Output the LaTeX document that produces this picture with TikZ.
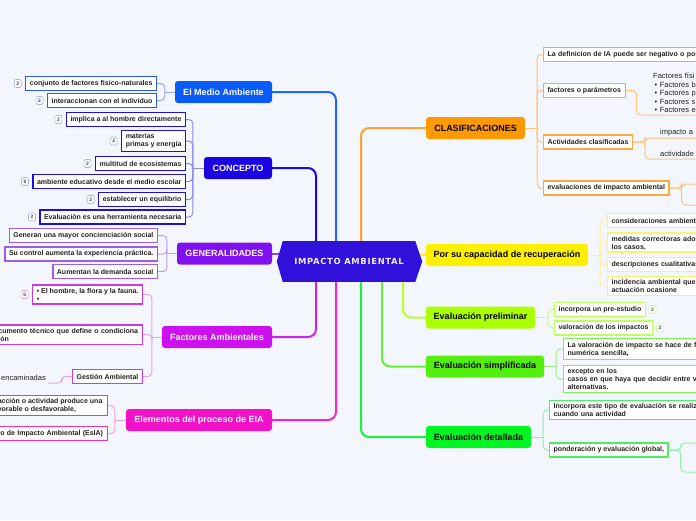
\documentclass[tikz,border=0pt]{standalone}
\usepackage{fontspec}
\setmainfont{Liberation Sans}
\newfontfamily\cfont[LetterSpace=8]{DejaVu Sans}
\usetikzlibrary{calc}
\newcommand\mainf{\fontsize{9}{10}\selectfont\bfseries}
\newcommand\subf{\fontsize{7}{8}\selectfont\bfseries}
\newcommand\plainf{\fontsize{7.5}{8.5}\selectfont}
\newcommand\badgef{\fontsize{5}{5}\selectfont\bfseries}
\definecolor{bg}{HTML}{F3F6FD}
\definecolor{cen}{HTML}{3110DC}
\definecolor{medC}{HTML}{0A5CF8}\definecolor{medL}{HTML}{2266FF}\definecolor{medB}{HTML}{2A5CF5}\definecolor{medBr}{HTML}{8FA8F8}
\definecolor{conC}{HTML}{1A05E2}\definecolor{conL}{HTML}{1A0AE8}\definecolor{conB}{HTML}{1E10D8}\definecolor{conBr}{HTML}{8C86EE}
\definecolor{genC}{HTML}{8010EE}\definecolor{genL}{HTML}{9040F0}\definecolor{genB}{HTML}{9D5CEB}\definecolor{genBr}{HTML}{C09CF0}
\definecolor{facC}{HTML}{CC11EE}\definecolor{facL}{HTML}{CC22EE}\definecolor{facB}{HTML}{C83CE0}\definecolor{facBr}{HTML}{E4A0F0}
\definecolor{eleC}{HTML}{F011C8}\definecolor{eleL}{HTML}{FF22CC}\definecolor{eleB}{HTML}{E832C0}\definecolor{eleBr}{HTML}{F5A0E0}
\definecolor{claC}{HTML}{FF9900}\definecolor{claL}{HTML}{FFA030}\definecolor{claB}{HTML}{FFA740}\definecolor{claBr}{HTML}{FFC27A}
\definecolor{porC}{HTML}{FFF000}\definecolor{porL}{HTML}{FFEE33}\definecolor{porB}{HTML}{FFF26A}\definecolor{porBr}{HTML}{FFF090}
\definecolor{preC}{HTML}{AAFF00}\definecolor{preL}{HTML}{BBFF33}\definecolor{preB}{HTML}{BDFF60}\definecolor{preBr}{HTML}{CCF88A}
\definecolor{simC}{HTML}{55EE11}\definecolor{simL}{HTML}{66EE33}\definecolor{simB}{HTML}{7CEE5A}\definecolor{simBr}{HTML}{99EE80}
\definecolor{detC}{HTML}{00F522}\definecolor{detL}{HTML}{22EE44}\definecolor{detB}{HTML}{4CEE5C}\definecolor{detBr}{HTML}{90F0A0}
\definecolor{txt}{HTML}{222222}
\definecolor{badgeB}{HTML}{A8B4E8}
\tikzset{
  conn/.style={line width=2pt, rounded corners=8pt},
  br/.style={line width=1pt, rounded corners=4pt},
  mainL/.style={rounded corners=3pt, minimum height=22pt, font=\mainf, text=white, inner sep=0pt},
  mainR/.style={rounded corners=3pt, minimum height=22pt, font=\mainf, text=black, inner sep=0pt},
  sub/.style={draw, fill=white, line width=1.2pt, font=\subf, text=txt, align=left, inner xsep=4pt, inner ysep=3pt, minimum height=14pt},
  badge/.style={draw=badgeB, fill=white, rounded corners=1.5pt, line width=0.6pt, font=\badgef, text=txt!80, inner sep=0pt, minimum width=7pt, minimum height=8pt},
  plain/.style={font=\plainf, text=txt, align=left, inner xsep=3pt, inner ysep=2pt},
}
\begin{document}
\begin{tikzpicture}[x=1pt, y=-1pt]
\useasboundingbox (0,0) rectangle (696,520);
\clip (0,0) rectangle (696,520);
\fill[bg] (0,0) rectangle (696,520);

% central node
\node[fill=cen, minimum width=132pt, minimum height=41pt, inner sep=0pt, text=white!92!cen, font=\cfont\bfseries\fontsize{8.4}{9}\selectfont] (c) at (349,261.5) {IMPACTO AMBIENTAL};

% main nodes
\node[mainL, fill=medC, minimum width=97pt] (medio) at (223.5,92) {El Medio Ambiente};
\node[mainL, fill=conC, minimum width=68pt] (concepto) at (238,168) {CONCEPTO};
\node[mainL, fill=genC, minimum width=95pt] (general) at (224.5,253.5) {GENERALIDADES};
\node[mainL, fill=facC, minimum width=110pt] (factores) at (217,337) {Factores Ambientales};
\node[mainL, fill=eleC, minimum width=146pt] (elementos) at (199,420) {Elementos del proceso de EIA};
\node[mainR, fill=claC, minimum width=99pt] (clasif) at (475.5,128) {CLASIFICACIONES};
\node[mainR, fill=porC, minimum width=162pt] (porsu) at (507,255) {Por su capacidad de recuperación};
\node[mainR, fill=preC, minimum width=109pt] (prelim) at (480.5,317.5) {Evaluación preliminar};
\node[mainR, fill=simC, minimum width=118pt] (simpl) at (485,366.5) {Evaluación simplificada};
\node[mainR, fill=detC, minimum width=105pt] (detall) at (478.5,437) {Evaluación detallada};

% main connectors
\draw[conn, medL] ([xshift=-13pt]c.north) |- (medio.east);
\draw[conn, conL] ([xshift=-33pt]c.north) |- (concepto.east);
\draw[conn, claL] ([xshift=12pt]c.north) |- (clasif.west);
\draw[conn, genL] (general.east) -- (general.east -| c.west);
\draw[conn, porL] (porsu.west) -- (porsu.west -| c.east);
\draw[conn, facL] ([xshift=-33pt]c.south) |- (factores.east);
\draw[conn, eleL] ([xshift=-13pt]c.south) |- (elementos.east);
\draw[conn, detL] ([xshift=12pt]c.south) |- (detall.west);
\draw[conn, simL] ([xshift=33pt]c.south) |- (simpl.west);
\draw[conn, preL] ([xshift=54pt]c.south) |- (prelim.west);

% pointed ends of the central node
\fill[cen] (c.north west) -- ([xshift=-6pt]c.west) -- (c.south west) -- cycle;
\fill[cen] (c.north east) -- ([xshift=7pt]c.east) -- (c.south east) -- cycle;

% ---------- El Medio Ambiente
\node[sub, draw=medB, anchor=east] (m1) at (157,83.5) {conjunto de factores fisico-naturales};
\node[sub, draw=medB, anchor=east] (m2) at (157,100.5) {interaccionan con el individuo};
\draw[br, medBr] (medio.west) -- ([xshift=-10pt]medio.west);
\foreach \n in {m1,m2} \draw[br, medBr] (\n.east) -| ([xshift=-10pt]medio.west);
\node[badge] (bm1) at ([xshift=-7.5pt]m1.west) {2};
\node[badge] (bm2) at ([xshift=-7.5pt]m2.west) {2};

% ---------- CONCEPTO
\node[sub, draw=conB, anchor=east] (k1) at (186,119.5) {implica a al hombre directamente};
\node[sub, draw=conB, anchor=east] (k2) at (186,141) {materias\\primas y energía};
\node[sub, draw=conB, anchor=east] (k3) at (186,163.5) {multitud de ecosistemas};
\node[sub, draw=conB, anchor=east] (k4) at (186,181.5) {ambiente educativo desde el medio escolar};
\node[sub, draw=conB, anchor=east] (k5) at (186,199.5) {establecer un equilibrio};
\node[sub, draw=conB, anchor=east] (k6) at (186,217) {Evaluación es una herramienta necesaria};
\draw[br, conBr] (concepto.west) -- ([xshift=-11pt]concepto.west);
\foreach \n in {k1,k2,k3,k4,k5,k6} \draw[br, conBr] (\n.east) -| ([xshift=-11pt]concepto.west);
\foreach \n/\v in {k1/2,k2/2,k3/2,k4/6,k5/2,k6/2} \node[badge] (b\n) at ([xshift=-7.5pt]\n.west) {\v};

% ---------- GENERALIDADES
\node[sub, draw=genB, anchor=east] (g1) at (158,235.5) {Generan una mayor concienciación social};
\node[sub, draw=genB, anchor=east] (g2) at (158,254) {Su control aumenta la experiencia práctica.};
\node[sub, draw=genB, anchor=east] (g3) at (158,271.5) {Aumentan la demanda social};
\draw[br, genBr] (general.west) -- ([xshift=-10pt]general.west);
\foreach \n in {g1,g2,g3} \draw[br, genBr] (\n.east) -| ([xshift=-10pt]general.west);

% ---------- Factores Ambientales
\node[sub, draw=facB, anchor=east] (f1) at (143,294.5) {• El hombre, la flora y la fauna.\\•};
\node[sub, draw=facB, anchor=east, text width=140pt] (f2) at (143,334.5) {cumento técnico que define o condiciona\\ión};
\node[sub, draw=facB, anchor=east] (f3) at (143,376.5) {Gestión Ambiental};
\draw[br, facBr] (factores.west) -- ([xshift=-10pt]factores.west);
\foreach \n in {f1,f2,f3} \draw[br, facBr] (\n.east) -| ([xshift=-10pt]factores.west);
\node[badge, draw=facBr] (bf1) at ([xshift=-7.5pt]f1.west) {6};
\node[plain, anchor=south east, inner xsep=2pt] (enc) at (48,383) {encaminadas};
\draw[br, facBr] (f3.west) -- ++(-10pt,0) |- (enc.south east);

% ---------- Elementos
\node[sub, draw=eleB, anchor=east, inner xsep=5pt] (e1) at (108,405.5) {acción o actividad produce una\\vorable o desfavorable,};
\node[sub, draw=eleB, anchor=east, text width=105pt] (e2) at (108,433.5) {lo de Impacto Ambiental (EsIA)};
\draw[br, eleBr] (elementos.west) -- ([xshift=-11pt]elementos.west);
\foreach \n in {e1,e2} \draw[br, eleBr] (\n.east) -| ([xshift=-11pt]elementos.west);

% ---------- CLASIFICACIONES
\node[sub, draw=claB, anchor=west, text width=170pt] (r1) at (543,54.5) {La definicion de IA puede ser negativo o pos};
\node[sub, draw=claB, anchor=west] (r2) at (543,90.5) {factores o parámetros};
\node[sub, draw=claB, anchor=west] (r3) at (543,142) {Actividades clasificadas};
\node[sub, draw=claB, anchor=west] (r4) at (543,188) {evaluaciones de impacto ambiental};
\draw[br, claBr] (clasif.east) -- ([xshift=12pt]clasif.east);
\foreach \n in {r1,r2,r3,r4} \draw[br, claBr] (\n.west) -| ([xshift=12pt]clasif.east);

\node[plain, anchor=south west, text width=60pt] (fl) at (650,115) {Factores físi\\\hspace*{1.5pt}• Factores b\\\hspace*{1.5pt}• Factores p\\\hspace*{1.5pt}• Factores s\\\hspace*{1.5pt}• Factores e};
\draw[br, claBr] (r2.east) -- ++(11pt,0) |- (fl.south west) -- (fl.south east);
\node[plain, anchor=south west, inner xsep=8pt, text width=50pt] (ia) at (652,138) {impacto a};
\node[plain, anchor=south west, inner xsep=8pt, text width=50pt] (ib) at (652,159) {actividade};
\draw[br, claBr] (r3.east) -- ++(12pt,0) |- (ia.south west) -- (ia.south east);
\draw[br, claBr] (r3.east) -- ++(12pt,0) |- (ib.south west) -- (ib.south east);
\coordinate (ea) at (710,184);
\coordinate (eb) at (710,205);
\draw[br, claBr] (r4.east) -- ++(12pt,0) |- (ea);
\draw[br, claBr] (r4.east) -- ++(12pt,0) |- (eb);

% ---------- Por su capacidad
\node[sub, draw=porB, anchor=west, text width=100pt] (p1) at (607,220.5) {consideraciones ambient};
\node[sub, draw=porB, anchor=west, text width=100pt] (p2) at (607,242.5) {medidas correctoras adop\\los casos.};
\node[sub, draw=porB, anchor=west, text width=100pt] (p3) at (607,264.5) {descripciones cualitativas};
\node[sub, draw=porB, anchor=west, text width=100pt] (p4) at (607,286) {incidencia ambiental que\\actuación ocasione};
\draw[br, porBr] (porsu.east) -- ([xshift=12pt]porsu.east);
\foreach \n in {p1,p2,p3,p4} \draw[br, porBr] (\n.west) -| ([xshift=12pt]porsu.east);

% ---------- Evaluacion preliminar
\node[sub, draw=preB, anchor=west] (q1) at (554,309.5) {incorpora un pre-estudio};
\node[sub, draw=preB, anchor=west] (q2) at (554,328) {valoración de los impactos};
\draw[br, preBr] (prelim.east) -- ([xshift=13pt]prelim.east);
\foreach \n in {q1,q2} \draw[br, preBr] (\n.west) -| ([xshift=13pt]prelim.east);
\node[badge, draw=preBr] (bq1) at ([xshift=6.5pt]q1.east) {2};
\node[badge, draw=preBr] (bq2) at ([xshift=7pt]q2.east) {2};

% ---------- Evaluacion simplificada
\node[sub, draw=simB, anchor=west, text width=150pt] (s1) at (563,349) {La valoración de impacto se hace de fo\\numérica sencilla,};
\node[sub, draw=simB, anchor=west, text width=150pt] (s2) at (563,379) {excepto en los\\casos en que haya que decidir entre va\\alternativas.};
\draw[br, simBr] (simpl.east) -- ([xshift=12pt]simpl.east);
\foreach \n in {s1,s2} \draw[br, simBr] (\n.west) -| ([xshift=12pt]simpl.east);

% ---------- Evaluacion detallada
\node[sub, draw=detB, anchor=west, text width=160pt] (d1) at (549,410) {Incorpora este tipo de evaluación se realiz\\cuando una actividad};
\node[sub, draw=detB, anchor=west] (d2) at (549,450) {ponderación y evaluación global,};
\draw[br, detBr] (detall.east) -- ([xshift=12pt]detall.east);
\foreach \n in {d1,d2} \draw[br, detBr] (\n.west) -| ([xshift=12pt]detall.east);
\coordinate (da) at (710,443);
\coordinate (db) at (710,472);
\draw[br, detBr] (d2.east) -- ++(12pt,0) |- (da);
\draw[br, detBr] (d2.east) -- ++(12pt,0) |- (db);
\end{tikzpicture}
\end{document}
